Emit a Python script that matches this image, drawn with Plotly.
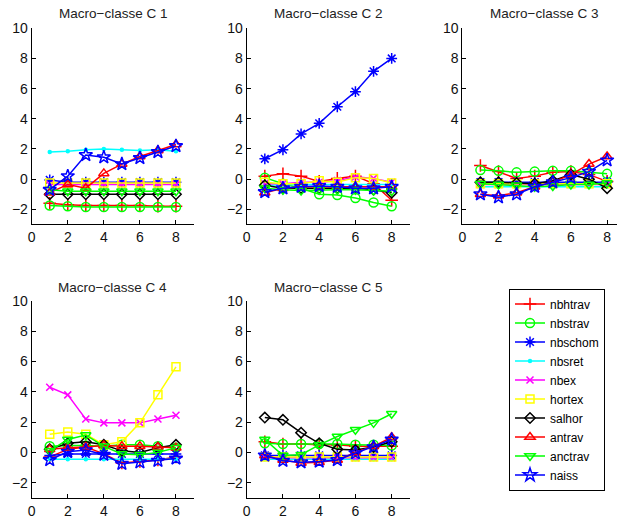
import plotly.graph_objects as go

x_vals = [1, 2, 3, 4, 5, 6, 7, 8]
class_titles = ["Macro\u2212classe C 1", "Macro\u2212classe C 2", "Macro\u2212classe C 3",
                "Macro\u2212classe C 4", "Macro\u2212classe C 5"]
series_names = ["nbhtrav", "nbstrav", "nbschom", "nbsret", "nbex",
                "hortex", "salhor", "antrav", "anctrav", "naiss"]

# each list: values for classes C1..C5
nbhtrav = [
    [-1.6, -1.7, -1.75, -1.75, -1.75, -1.75, -1.8, -1.8],
    [0.2, 0.35, 0.2, -0.15, 0.05, 0.2, -0.3, -1.4],
    [0.9, 0.5, 0.05, 0.2, 0.45, 0.5, 0.3, -0.15],
    [-0.3, 0.2, 0.35, -0.1, -0.7, -0.6, -0.5, -0.3],
    [0.7, 0.55, 0.55, 0.5, 0.5, 0.4, 0.4, 0.4],
]
nbstrav = [
    [-1.75, -1.8, -1.85, -1.85, -1.85, -1.85, -1.85, -1.85],
    [0.1, -0.3, -0.6, -1.0, -1.05, -1.25, -1.55, -1.8],
    [0.6, 0.55, 0.45, 0.5, 0.55, 0.55, 0.45, 0.35],
    [0.4, 0.45, 0.45, 0.4, 0.5, 0.5, 0.4, 0.3],
    [0.6, 0.55, 0.55, 0.55, 0.55, 0.5, 0.5, 0.45],
]
nbschom = [
    [-0.05, -0.2, -0.2, -0.2, -0.2, -0.2, -0.2, -0.2],
    [1.35, 1.95, 3.0, 3.7, 4.8, 5.8, 7.15, 8.0],
    [-0.2, -0.2, -0.2, -0.2, -0.2, -0.15, -0.15, -0.2],
    [-0.2, -0.1, -0.1, -0.1, -0.1, -0.1, -0.1, -0.1],
    [-0.2, -0.2, -0.2, -0.2, -0.2, -0.2, -0.2, -0.2],
]
nbsret = [
    [1.8, 1.85, 1.95, 2.0, 1.95, 1.9, 1.95, 1.85],
    [-0.4, -0.35, -0.35, -0.35, -0.35, -0.35, -0.35, -0.35],
    [-0.5, -0.5, -0.5, -0.5, -0.5, -0.5, -0.5, -0.5],
    [-0.45, -0.45, -0.45, -0.45, -0.45, -0.45, -0.45, -0.45],
    [-0.45, -0.45, -0.45, -0.45, -0.45, -0.45, -0.45, -0.45],
]
nbex = [
    [-0.35, -0.35, -0.35, -0.35, -0.35, -0.35, -0.35, -0.35],
    [-0.3, -0.3, -0.2, -0.2, -0.1, 0.15, 0.05, -0.2],
    [-0.35, -0.35, -0.35, -0.35, -0.35, -0.35, -0.35, -0.35],
    [4.3, 3.8, 2.2, 1.95, 1.95, 1.95, 2.2, 2.45],
    [-0.35, -0.35, -0.35, -0.35, -0.35, -0.35, -0.35, -0.35],
]
hortex = [
    [-0.25, -0.25, -0.25, -0.25, -0.25, -0.25, -0.25, -0.25],
    [-0.2, -0.3, -0.3, -0.1, -0.2, 0.1, 0.05, -0.25],
    [-0.3, -0.3, -0.3, -0.3, -0.3, -0.3, -0.3, -0.3],
    [1.2, 1.35, 1.2, 0.5, 0.7, 1.95, 3.8, 5.65],
    [-0.3, -0.3, -0.3, -0.3, -0.3, -0.3, -0.3, -0.3],
]
salhor = [
    [-1.0, -1.0, -1.0, -1.0, -1.0, -1.0, -1.0, -1.0],
    [-0.4, -0.6, -0.6, -0.6, -0.6, -0.6, -0.7, -0.9],
    [-0.2, -0.2, -0.25, -0.3, -0.1, 0.3, 0.0, -0.6],
    [0.2, 0.6, 0.7, 0.5, 0.1, 0.0, 0.3, 0.5],
    [2.3, 2.15, 1.3, 0.6, 0.2, 0.15, 0.35, 0.7],
]
antrav = [
    [-0.9, -0.35, -0.6, 0.38, 1.0, 1.5, 1.9, 2.3],
    [-0.9, -0.6, -0.5, -0.5, -0.5, -0.5, -0.55, -0.5],
    [-1.0, -1.1, -0.9, -0.5, -0.2, 0.3, 1.0, 1.5],
    [0.2, 0.3, 0.35, 0.45, 0.4, 0.4, 0.35, 0.3],
    [-0.2, -0.5, -0.7, -0.65, -0.5, 0.0, 0.4, 1.0],
]
anctrav = [
    [-0.7, -0.8, -0.8, -0.8, -0.8, -0.8, -0.8, -0.8],
    [-0.6, -0.7, -0.75, -0.7, -0.7, -0.7, -0.75, -0.8],
    [-0.3, -0.35, -0.4, -0.5, -0.45, -0.35, -0.35, -0.25],
    [0.1, 0.85, 1.15, 0.4, -0.1, -0.15, 0.0, 0.3],
    [0.85, -0.2, -0.15, 0.5, 1.05, 1.5, 1.95, 2.55],
]
naiss = [
    [-0.7, 0.2, 1.6, 1.45, 1.0, 1.4, 1.8, 2.2],
    [-0.85, -0.6, -0.5, -0.45, -0.5, -0.6, -0.6, -0.5],
    [-1.0, -1.2, -1.0, -0.5, -0.2, 0.1, 0.5, 1.25],
    [-0.5, 0.05, 0.15, -0.15, -0.75, -0.65, -0.55, -0.4],
    [-0.2, -0.55, -0.65, -0.6, -0.5, -0.05, 0.35, 0.85],
]

y_ticks = [-2, 0, 2, 4, 6, 8, 10]
x_ticks = [0, 2, 4, 6, 8]

series_data = [nbhtrav, nbstrav, nbschom, nbsret, nbex, hortex, salhor, antrav, anctrav, naiss]
colors = ["#FF0000", "#00FF00", "#0000FF", "#00FFFF", "#FF00FF",
          "#FFFF00", "#000000", "#FF0000", "#00FF00", "#0000FF"]
symbols = ["cross-thin-open", "circle-open", "asterisk-open", "circle", "x-thin-open",
           "square-open", "diamond-open", "triangle-up-open", "triangle-down-open", "star-open"]
sizes = [9, 9, 9, 3, 7, 8, 8, 9, 9, 10]

W, H = 617, 523
# axes pixel geometry
col_px = [(31.7, 194.0, 9.0), (246.7, 409.8, 9.0), (462.3, 617.0, (617.0 - 462.3) / 18.1)]
row_px = [(28.3, 224.4), (301.0, 497.8)]
title_px = [14.0, 287.0]
positions = [(0, 0), (0, 1), (0, 2), (1, 0), (1, 1)]

fig = go.Figure()
layout = dict(
    width=W, height=H, margin=dict(l=0, r=0, t=0, b=0, autoexpand=False),
    paper_bgcolor="white", plot_bgcolor="white",
    font=dict(family="Liberation Sans, Arial, sans-serif", size=13, color="#222"),
    showlegend=True,
)
annotations = []
for k, (r, c) in enumerate(positions):
    x0, x1, xmax = col_px[c]
    y0, y1 = row_px[r]
    ax = "" if k == 0 else str(k + 1)
    layout["xaxis" + ax] = dict(
        domain=[x0 / W, x1 / W], range=[0, xmax], anchor="y" + ax,
        tickvals=x_ticks, ticks="inside", ticklen=4, tickcolor="black",
        showline=True, linecolor="black", linewidth=1, showgrid=False, zeroline=False,
        tickfont=dict(size=14, color="#111"),
    )
    layout["yaxis" + ax] = dict(
        domain=[(H - y1) / H, (H - y0) / H], range=[-3, 10], anchor="x" + ax,
        tickvals=y_ticks, ticktext=[("\u2212" + str(-v)) if v < 0 else str(v) for v in y_ticks],
        ticks="inside", ticklen=4, tickcolor="black",
        showline=True, linecolor="black", linewidth=1, showgrid=False, zeroline=False,
        tickfont=dict(size=14, color="#111"),
    )
    annotations.append(dict(
        text=class_titles[k], xref="paper", yref="paper",
        x=(x0 + 81.2) / W,
        y=(H - title_px[r]) / H, xanchor="center", yanchor="middle", showarrow=False,
        font=dict(size=13.5, color="#222"),
    ))
    for s in range(10):
        fig.add_trace(go.Scatter(
            x=x_vals, y=series_data[s][k], mode="lines+markers",
            name=series_names[s], legendgroup=series_names[s], showlegend=(k == 0),
            line=dict(color=colors[s], width=1.5),
            marker=dict(symbol=symbols[s], size=sizes[s], color=colors[s],
                        line=dict(color=colors[s], width=1.5)),
            xaxis="x" + ax, yaxis="y" + ax, cliponaxis=False,
        ))

layout["annotations"] = annotations
layout["legend"] = dict(
    x=509 / W, y=(H - 389.5) / H, xanchor="left", yanchor="middle",
    bordercolor="black", borderwidth=1, bgcolor="white",
    font=dict(size=12, color="black"), tracegroupgap=0, itemwidth=30,
)
fig.update_layout(**layout)
fig.write_html("out.html", config={"displayModeBar": False},
               post_script="document.body.style.margin='0';document.body.style.overflow='hidden';")
